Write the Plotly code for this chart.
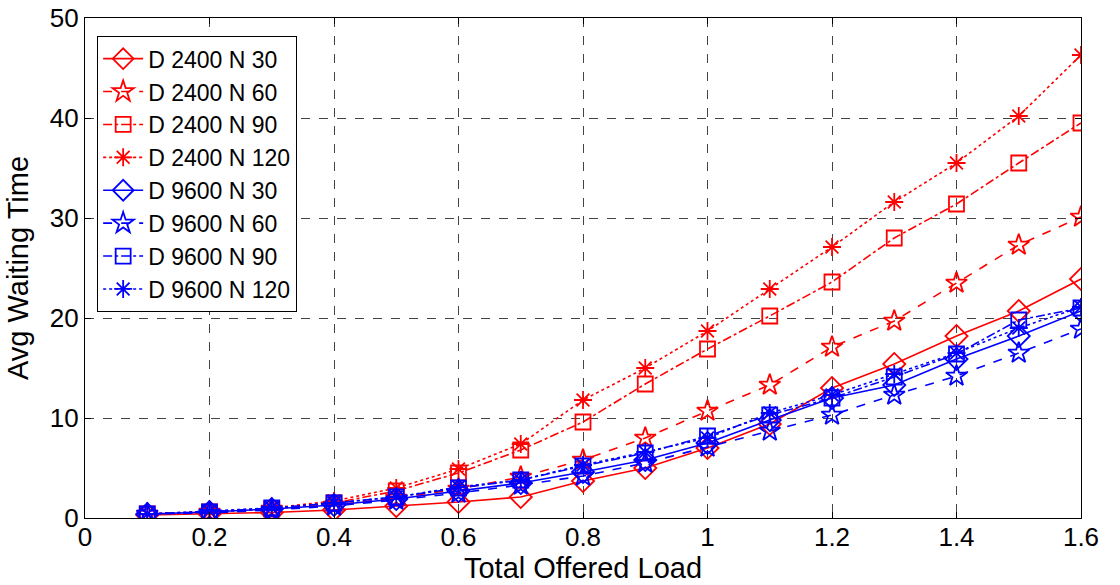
import plotly.graph_objects as go

load = [0.1, 0.2, 0.3, 0.4, 0.5, 0.6, 0.7, 0.8, 0.9, 1.0, 1.1, 1.2, 1.3, 1.4, 1.5, 1.6]

d2400_n30 = [0.3, 0.4, 0.55, 0.8, 1.2, 1.6, 2.1, 3.7, 5.0, 7.0, 9.4, 13.0, 15.4, 18.2, 20.7, 23.9]
d2400_n60 = [0.4, 0.6, 0.9, 1.3, 2.0, 2.9, 4.1, 5.8, 8.0, 10.7, 13.3, 17.1, 19.7, 23.5, 27.3, 30.1]
d2400_n90 = [0.4, 0.6, 0.9, 1.5, 2.7, 4.5, 6.8, 9.6, 13.4, 16.9, 20.2, 23.6, 28.0, 31.4, 35.5, 39.5]
d2400_n120 = [0.4, 0.6, 1.0, 1.7, 3.0, 4.9, 7.4, 11.8, 15.0, 18.7, 22.9, 27.1, 31.6, 35.5, 40.2, 46.3]

d9600_n30 = [0.4, 0.6, 0.9, 1.3, 1.9, 2.7, 3.5, 4.6, 5.8, 7.5, 9.8, 12.0, 13.3, 15.9, 18.2, 20.7]
d9600_n60 = [0.4, 0.5, 0.8, 1.2, 1.8, 2.5, 3.3, 4.2, 5.5, 7.1, 8.7, 10.3, 12.3, 14.2, 16.5, 18.9]
d9600_n90 = [0.4, 0.6, 1.0, 1.5, 2.1, 3.0, 3.8, 5.2, 6.5, 8.2, 10.3, 12.0, 14.1, 16.4, 19.8, 21.0]
d9600_n120 = [0.4, 0.7, 1.0, 1.5, 2.1, 3.1, 3.8, 5.3, 6.6, 8.0, 10.5, 12.3, 14.4, 16.5, 19.0, 21.1]

names = ["D 2400 N 30", "D 2400 N 60", "D 2400 N 90", "D 2400 N 120",
         "D 9600 N 30", "D 9600 N 60", "D 9600 N 90", "D 9600 N 120"]
series = [d2400_n30, d2400_n60, d2400_n90, d2400_n120,
          d9600_n30, d9600_n60, d9600_n90, d9600_n120]
colors = ["#ff0000"] * 4 + ["#0000ff"] * 4
dashes = ["solid", "dash", "dashdot", "dot"] * 2
symbols = ["diamond-open", "star-open", "square-open", "asterisk-open"] * 2
msizes = [17, 16, 15, 15] * 2

FONT = "Liberation Sans, Arial, sans-serif"

fig = go.Figure()
for name, ys, c, d, s, ms in zip(names, series, colors, dashes, symbols, msizes):
    fig.add_trace(go.Scatter(
        x=load, y=ys, name=name, mode="lines+markers",
        line=dict(color=c, width=1.6, dash=d),
        marker=dict(symbol=s, size=ms, color=c, line=dict(color=c, width=1.8)),
    ))

axis_common = dict(
    showline=True, linecolor="black", linewidth=1.2, mirror="ticks",
    ticks="inside", ticklen=6, tickcolor="black", tickwidth=1,
    showgrid=True, gridcolor="#444444", griddash="dash", gridwidth=1,
    zeroline=False, automargin=False,
    tickfont=dict(family=FONT, size=26, color="black"),
)

fig.update_layout(
    width=1120, height=585,
    margin=dict(l=85, r=39, t=18, b=67),
    paper_bgcolor="white", plot_bgcolor="white",
    font=dict(family=FONT, size=23, color="black"),
    xaxis=dict(range=[0, 1.6], dtick=0.2, tick0=0, ticklabelstandoff=-4,
               title=dict(text="Total Offered Load", font=dict(family=FONT, size=29), standoff=0),
               **axis_common),
    yaxis=dict(range=[0, 50], dtick=10, tick0=0,
               title=dict(text="Avg Waiting Time", font=dict(family=FONT, size=29), standoff=12),
               **axis_common),
    legend=dict(x=0.012, y=0.964, xanchor="left", yanchor="top",
                bgcolor="white", bordercolor="black", borderwidth=1.2,
                font=dict(family=FONT, size=23, color="black"),
                tracegroupgap=0, itemwidth=40),
    showlegend=True,
)

fig.write_html("out.html")
